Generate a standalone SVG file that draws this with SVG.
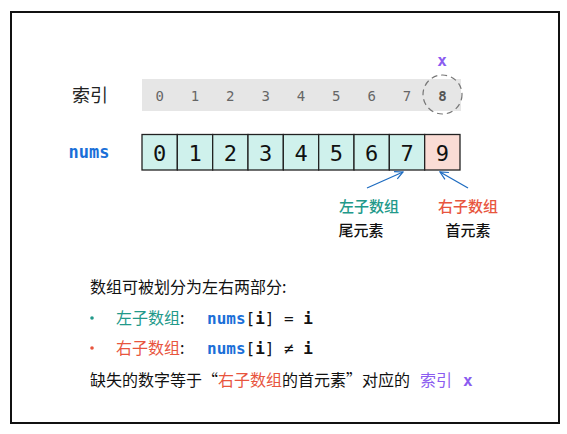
<svg xmlns="http://www.w3.org/2000/svg" width="567" height="434" viewBox="0 0 567 434">
<style>
.cn{font-family:"Noto Sans CJK SC","Noto Sans",sans-serif}
.mono{font-family:"DejaVu Sans Mono","Liberation Mono",monospace}
.idx{font-size:14px;fill:#666;text-anchor:middle}
.cell{stroke:#222;stroke-width:1.3}
.num{font-size:22px;fill:#111;text-anchor:middle}
.teal{fill:#22998a}
.red{fill:#e8553e}
.blue{fill:#1a6fd8}
.purple{fill:#8b5cf0}
.arr{stroke:#1d6bc0;stroke-width:1.2;fill:none}
</style>
<defs>
<marker id="ah" markerWidth="10" markerHeight="10" refX="9" refY="5" orient="auto" markerUnits="userSpaceOnUse">
<path d="M1,1 L9,5 L1,9" fill="none" stroke="#1d6bc0" stroke-width="1.2"/>
</marker>
</defs>
<rect x="0" y="0" width="567" height="434" fill="#fff"/>
<rect x="11" y="12" width="548" height="411" fill="#fff" stroke="#111" stroke-width="2"/>

<g id="index-label"><text class="cn" x="90" y="102" font-size="18" fill="#222" text-anchor="middle">索引</text></g>
<g id="index-band">
<rect x="142" y="79" width="319" height="32" fill="#e6e6e6"/>
<g class="mono idx">
<text x="159.7" y="101">0</text><text x="195" y="101">1</text><text x="230.3" y="101">2</text><text x="265.7" y="101">3</text><text x="301" y="101">4</text><text x="336.3" y="101">5</text><text x="371.7" y="101">6</text><text x="407" y="101">7</text>
<text x="442.5" y="101" font-weight="bold" fill="#555">8</text>
</g>
<circle cx="442.5" cy="94.5" r="19.5" fill="none" stroke="#777" stroke-width="1.2" stroke-dasharray="6,4"/>
</g>
<g id="x-label"><text class="mono purple" x="442" y="66" font-size="16" font-weight="bold" text-anchor="middle">x</text></g>

<g id="nums-label"><text class="mono blue" x="89" y="158" font-size="17" font-weight="bold" text-anchor="middle">nums</text></g>
<g id="nums-array">
<rect class="cell" x="142" y="134.5" width="35.33" height="35.5" fill="#cff1ec"/>
<rect class="cell" x="177.33" y="134.5" width="35.33" height="35.5" fill="#cff1ec"/>
<rect class="cell" x="212.67" y="134.5" width="35.33" height="35.5" fill="#cff1ec"/>
<rect class="cell" x="248" y="134.5" width="35.33" height="35.5" fill="#cff1ec"/>
<rect class="cell" x="283.33" y="134.5" width="35.33" height="35.5" fill="#cff1ec"/>
<rect class="cell" x="318.67" y="134.5" width="35.33" height="35.5" fill="#cff1ec"/>
<rect class="cell" x="354" y="134.5" width="35.33" height="35.5" fill="#cff1ec"/>
<rect class="cell" x="389.33" y="134.5" width="35.33" height="35.5" fill="#cff1ec"/>
<rect class="cell" x="424.67" y="134.5" width="35.33" height="35.5" fill="#fadcd5"/>
<g class="mono num">
<text x="159.7" y="160.5">0</text><text x="195" y="160.5">1</text><text x="230.3" y="160.5">2</text><text x="265.7" y="160.5">3</text><text x="301" y="160.5">4</text><text x="336.3" y="160.5">5</text><text x="371.7" y="160.5">6</text><text x="407" y="160.5">7</text><text x="442.3" y="160.5">9</text>
</g>
</g>

<g id="connectors">
<line class="arr" x1="367" y1="188" x2="403" y2="172" marker-end="url(#ah)"/>
<line class="arr" x1="468" y1="188" x2="440" y2="172" marker-end="url(#ah)"/>
</g>

<g id="left-label">
<text class="cn teal" x="369" y="212" font-size="15" font-weight="500" text-anchor="middle">左子数组</text>
<text class="cn" x="361" y="236" font-size="15" font-weight="500" fill="#111" text-anchor="middle">尾元素</text>
</g>
<g id="right-label">
<text class="cn red" x="468" y="212" font-size="15" font-weight="500" text-anchor="middle">右子数组</text>
<text class="cn" x="468" y="236" font-size="15" font-weight="500" fill="#111" text-anchor="middle">首元素</text>
</g>

<g id="notes" font-size="16">
<text class="cn" x="90" y="293" fill="#111">数组可被划分为左右两部分:</text>
<circle cx="92" cy="318" r="1.8" fill="#22998a"/>
<text class="cn teal" x="116" y="324">左子数组<tspan fill="#111">:</tspan></text>
<text class="mono" x="207" y="324" font-weight="bold" font-size="16"><tspan class="blue">nums</tspan><tspan fill="#111" font-weight="normal">[</tspan><tspan fill="#111">i</tspan><tspan fill="#111" font-weight="normal">] = </tspan><tspan fill="#111">i</tspan></text>
<circle cx="92" cy="348" r="1.8" fill="#e8553e"/>
<text class="cn red" x="116" y="354">右子数组<tspan fill="#111">:</tspan></text>
<text class="mono" x="207" y="354" font-weight="bold" font-size="16"><tspan class="blue">nums</tspan><tspan fill="#111" font-weight="normal">[</tspan><tspan fill="#111">i</tspan><tspan fill="#111" font-weight="normal">] ≠ </tspan><tspan fill="#111">i</tspan></text>
<text class="cn" x="90" y="386" fill="#111">缺失的数字等于“<tspan class="red">右子数组</tspan>的首元素”对应的</text>
<text class="cn purple" x="420" y="386">索引</text>
<text class="mono purple" x="463" y="386" font-weight="bold">x</text>
</g>
</svg>
